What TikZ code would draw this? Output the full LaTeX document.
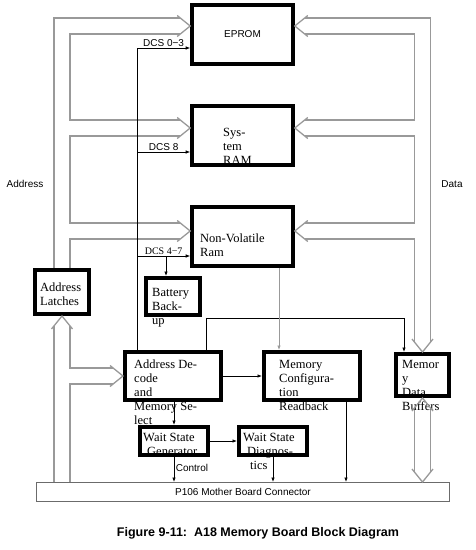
\documentclass[tikz,border=0pt]{standalone}
\usepackage{fontspec}
\setmainfont{Liberation Serif}
\newfontfamily\lblfont{Liberation Sans}
\usepackage{xcolor}
\usetikzlibrary{positioning, arrows.meta, backgrounds}

\definecolor{busgray}{gray}{0.6}

\tikzset{
    blk/.style={draw, line width=3.6pt, inner sep=0pt},
    boxtxt/.style={font=\fontsize{12.5}{14}\selectfont, align=left, anchor=base west, inner sep=0pt},
    lbl/.style={font=\lblfont\fontsize{10}{12}\selectfont, inner sep=1.5pt},
    sig/.style={line width=0.7pt, -{Latex[length=4.5pt, width=3.5pt]}},
    bustube/.style={line width=17.3pt, draw=busgray},
    buscore/.style={line width=14.7pt, draw=white},
    headline/.style={line width=1.3pt, draw=busgray},
    pics/bushead/.style={code={\draw[headline] (-13pt,10.5pt) -- (0,0) -- (-13pt,-10.5pt);}}
}

\begin{document}
\begin{tikzpicture}[x=1pt, y=-1pt]
        \useasboundingbox (0,0) rectangle (476,550);

        % texts of the boxes (placed at the baseline of their last line), the borders go over them
        \node[boxtxt] (ramtx) at (223,164) {Sys-\\tem\\RAM};
        \node[boxtxt] (nvtx) at (200,256.5) {Non-Volatile\\Ram};
        \node[boxtxt] (lattx) at (40,305.5) {Address\\Latches};
        \node[boxtxt] (battx) at (152,324.5) {Battery\\Back-\\up};
        \node[boxtxt] (dectx) at (134,424.5) {Address De-\\code\\and\\Memory Se-\\lect};
        \node[boxtxt] (cfgtx) at (279,410.5) {Memory\\Configura-\\tion\\Readback};
        \node[boxtxt] (buftx) at (402,410.5) {Memor\\y\\Data\\Buffers};
        \node[boxtxt] (wsgtx) at (143,455.5) {Wait State\\\hspace*{4pt}Generator};
        \node[boxtxt] (wsdtx) at (243,469.5) {Wait State\\\hspace*{4pt}Diagnos-\\\hspace*{7pt}tics};

        % boxes
        \node[blk, minimum width=101pt, minimum height=59pt, font=\lblfont\fontsize{10}{12}\selectfont] (eprom) at (242.5,34.5) {EPROM};
        \node[blk, minimum width=101pt, minimum height=59pt] (ram) at (242.5,135.5) {};
        \node[blk, minimum width=101pt, minimum height=59pt] (nv) at (242.5,236.5) {};
        \node[blk, minimum width=54.4pt, minimum height=44.4pt] (latch) at (62,292) {};
        \node[blk, minimum width=54.4pt, minimum height=37.4pt] (bat) at (173,296.5) {};
        \node[blk, minimum width=96.4pt, minimum height=48.4pt] (dec) at (173,376) {};
        \node[blk, minimum width=96.4pt, minimum height=48.4pt] (cfg) at (312,376) {};
        \node[blk, minimum width=53.4pt, minimum height=42.4pt] (buf) at (422.5,375) {};
        \node[blk, minimum width=68.4pt, minimum height=28.4pt] (wsg) at (174,441) {};
        \node[blk, minimum width=68.4pt, minimum height=28.4pt] (wsd) at (273,441) {};
        \node[draw=busgray!70!black, line width=1.2pt, minimum width=412.8pt, minimum height=18.8pt, font=\lblfont\fontsize{10}{12}\selectfont] (con) at (243,492) {P106 Mother Board Connector};

        \node[lbl] (addr) at (25,184) {Address};
        \node[lbl] (data) at (452,184) {Data};
        \node[font=\lblfont\bfseries\fontsize{12.5}{15}\selectfont] (cap) at (258,533) {Figure 9-11:\ \ A18 Memory Board Block Diagram};

        % bus ports
        \coordinate (aE) at ([yshift=8.5pt]eprom.west);
        \coordinate (aR) at ([yshift=7.5pt]ram.west);
        \coordinate (aN) at ([yshift=5.5pt]nv.west);
        \coordinate (dE) at ([yshift=8.5pt]eprom.east);
        \coordinate (dR) at ([yshift=7.5pt]ram.east);
        \coordinate (dN) at ([yshift=5.5pt]nv.east);
        \coordinate (conB) at (buf.south |- con.north);

        % address and data buses
        \begin{scope}[on background layer]
            \foreach \s in {bustube, buscore} {
                \draw[\s] (latch.north) |- ([xshift=-10pt]aE);
                \draw[\s] ([xshift=-10pt]aR) -- (aR -| latch.north);
                \draw[\s] ([xshift=-10pt]aN) -- (aN -| latch.north);
                \draw[\s] ([yshift=-10pt]latch.south) -- (latch.south |- con.north);
                \draw[\s] (dec.west -| latch.south) -- ([xshift=-10pt]dec.west);
                \draw[\s] ([xshift=10pt]dE) -| ([yshift=10pt]buf.north);
                \draw[\s] ([xshift=10pt]dR) -- (dR -| buf.north);
                \draw[\s] ([xshift=10pt]dN) -- (dN -| buf.north);
                \draw[\s] ([yshift=-10pt]buf.south) -- ([yshift=10pt]conB);
            }
        \end{scope}
        \foreach \p/\r in {aE/0, aR/0, aN/0, dec.west/0, latch.south/90, dE/180, dR/180, dN/180, buf.north/-90, buf.south/90, conB/-90} {
            \pic[rotate=\r] at (\p) {bushead};
        }

        % chip selects
        \coordinate (dcs) at ([xshift=14pt]dec.north west);
        \coordinate (nvin) at ([yshift=-19.5pt]nv.west);
        \draw[sig] (dcs) |- ([yshift=-13.5pt]eprom.west) node[lbl, pos=0.75, above] (l03) {DCS 0−3};
        \draw[sig] ([yshift=-16.5pt]ram.west -| dcs) -- ([yshift=-16.5pt]ram.west) node[lbl, midway, above] (l8) {DCS 8};
        \draw[sig] (nvin -| dcs) -- (nvin) node[lbl, midway, above, font=\fontsize{10}{12}\selectfont] (l47) {DCS 4−7};
        \draw[sig] ([xshift=-7pt]bat.north |- nvin) -- ([xshift=-7pt]bat.north);

        % other signals
        \draw[sig] ([xshift=33pt]dec.north) -- ++(0,32pt) -| ([xshift=-18.5pt]buf.north);
        \draw[sig, draw=busgray] ([xshift=-33pt]cfg.north |- nv.south) -- ([xshift=-33pt]cfg.north);
        \draw[sig] (dec.east) -- (cfg.west);
        \draw[sig] (wsg.north |- dec.south) -- (wsg.north);
        \draw[sig] (wsg.east) -- (wsd.west);
        \draw[sig] (wsg.south) -- (wsg.south |- con.north) node[lbl, pos=0.45, right] (ctl) {Control};
        \draw[sig] (wsd.south) -- (wsd.south |- con.north);
        \draw[sig] ([xshift=34pt]cfg.south) -- ([xshift=34pt]cfg.south |- con.north);
    \end{tikzpicture}
\end{document}
